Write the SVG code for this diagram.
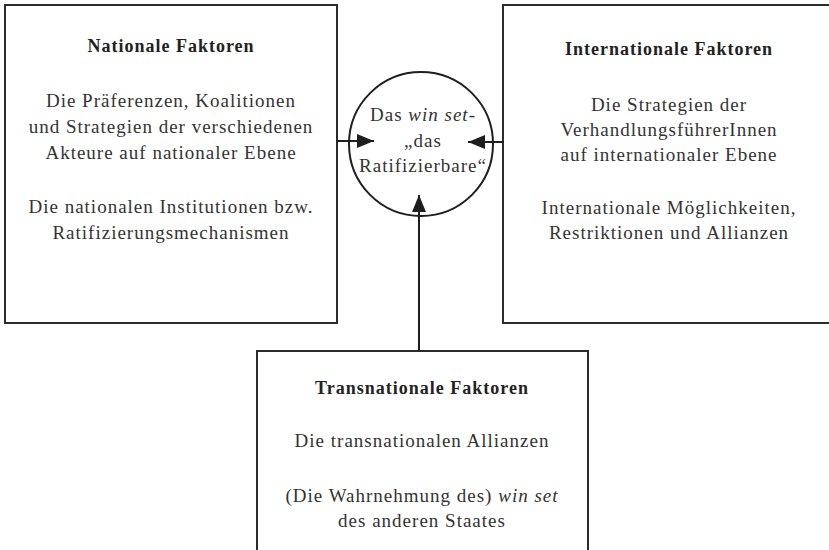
<svg xmlns="http://www.w3.org/2000/svg" width="829" height="550" viewBox="0 0 829 550">
<style>
.box{fill:#fff;stroke:#2b2b2b;stroke-width:2}
.t{font-family:"Liberation Serif","Times New Roman",serif;font-size:19px;letter-spacing:1px;fill:#333;text-anchor:middle}
.h{font-family:"Liberation Serif","Times New Roman",serif;font-size:18px;letter-spacing:1px;font-weight:bold;fill:#222;text-anchor:middle}
.i{font-style:italic}
.ln{stroke:#1e1e1e;stroke-width:2;fill:none}
</style>
<defs>
<marker id="ah" markerUnits="userSpaceOnUse" markerWidth="18" markerHeight="14" refX="17" refY="7" orient="auto">
<path d="M0,0 L17,7 L0,14 Z" fill="#1e1e1e"/>
</marker>
</defs>
<rect width="829" height="550" fill="#fff"/>
<g id="national">
<rect class="box" x="5" y="5" width="332" height="318"/>
<text class="h" x="171" y="52">Nationale Faktoren</text>
<text class="t" x="171" y="107">Die Präferenzen, Koalitionen</text>
<text class="t" x="171" y="133">und Strategien der verschiedenen</text>
<text class="t" x="171" y="159">Akteure auf nationaler Ebene</text>
<text class="t" x="171" y="213">Die nationalen Institutionen bzw.</text>
<text class="t" x="171" y="239">Ratifizierungsmechanismen</text>
</g>
<g id="international">
<rect class="box" x="503" y="5" width="340" height="318"/>
<text class="h" x="669" y="55">Internationale Faktoren</text>
<text class="t" x="669" y="111">Die Strategien der</text>
<text class="t" x="669" y="136">VerhandlungsführerInnen</text>
<text class="t" x="669" y="161">auf  internationaler Ebene</text>
<text class="t" x="669" y="214">Internationale Möglichkeiten,</text>
<text class="t" x="669" y="239">Restriktionen und Allianzen</text>
</g>
<g id="transnational">
<rect class="box" x="257" y="351" width="331" height="220"/>
<text class="h" x="422" y="394">Transnationale Faktoren</text>
<text class="t" x="422" y="447">Die transnationalen Allianzen</text>
<text class="t" x="422" y="502">(Die Wahrnehmung des) <tspan class="i">win set</tspan></text>
<text class="t" x="422" y="527">des anderen Staates</text>
</g>
<g id="winset">
<circle cx="421" cy="144" r="72" fill="#fff" stroke="#1e1e1e" stroke-width="2"/>
<text class="t" x="423" y="121">Das <tspan class="i">win set</tspan>-</text>
<text class="t" x="423" y="147">„das</text>
<text class="t" x="423" y="172">Ratifizierbare“</text>
</g>
<g id="connectors">
<line class="ln" x1="337" y1="141" x2="374" y2="141" marker-end="url(#ah)"/>
<line class="ln" x1="503" y1="142" x2="468" y2="142" marker-end="url(#ah)"/>
<line class="ln" x1="419" y1="351" x2="419" y2="195" marker-end="url(#ah)"/>
</g>
</svg>
